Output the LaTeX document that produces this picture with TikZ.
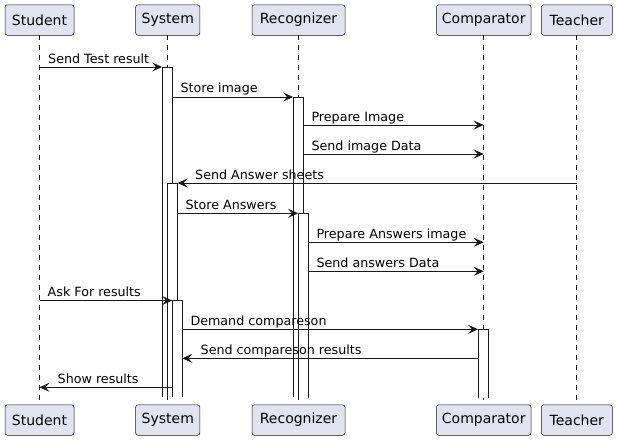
\documentclass[tikz,border=0pt]{standalone}
\usepackage{fontspec}
\setmainfont{DejaVu Sans}
\usetikzlibrary{arrows.meta}
\definecolor{pbg}{HTML}{E2E2F0}
\definecolor{ln}{HTML}{181818}
\begin{document}
\begin{tikzpicture}[x=1pt,y=-1pt,
 part/.style={draw=ln, fill=pbg, rounded corners=2.5pt, line width=0.5pt, minimum height=30.5pt, inner xsep=0pt, font=\fontsize{14}{16}\selectfont, text=black},
 life/.style={draw=ln, line width=0.5pt, dash pattern=on 5pt off 5pt},
 actbar/.style={fill=white, minimum width=10pt, inner sep=0pt, anchor=north},
 baredge/.style={draw=ln, line width=1pt},
 msg/.style={draw=ln, line width=1pt, -{Stealth[length=10pt,width=9pt,inset=4pt]}},
 lbl/.style={anchor=base west, font=\fontsize{12.7}{15}\selectfont, inner sep=0pt, text=black}]
\useasboundingbox (0,0) rectangle (617,440);
% participants
\node[part, minimum width=69pt] (stuT) at (39.5,20) {Student};
\node[part, minimum width=64.3pt] (sysT) at (167.8,20) {System};
\node[part, minimum width=93pt] (recT) at (298.5,20) {Recognizer};
\node[part, minimum width=94.7pt] (cmpT) at (483.7,20) {Comparator};
\node[part, minimum width=71pt] (teaT) at (576.8,20) {Teacher};
\node[part, minimum width=69pt] (stuB) at (39.5,420) {Student};
\node[part, minimum width=64.3pt] (sysB) at (167.8,420) {System};
\node[part, minimum width=93pt] (recB) at (298.5,420) {Recognizer};
\node[part, minimum width=94.7pt] (cmpB) at (483.7,420) {Comparator};
\node[part, minimum width=71pt] (teaB) at (576.8,420) {Teacher};
% lifelines
\coordinate (stuL) at (39.5,35.3);
\coordinate (sysL) at (167.3,35.3);
\coordinate (recL) at (298.3,35.3);
\coordinate (cmpL) at (483.7,35.3);
\coordinate (teaL) at (576.7,35.3);
\draw[life] (stuL) -- (stuL |- stuB.north);
\draw[life] (sysL) -- (sysL |- sysB.north);
\draw[life] (recL) -- (recL |- recB.north);
\draw[life] (cmpL) -- (cmpL |- cmpB.north);
\draw[life] (teaL) -- (teaL |- teaB.north);
% activation bars (open at the bottom)
\node[actbar, minimum height=330pt] (sys1) at (167.3,67) {};
\draw[baredge] (sys1.south west) -- (sys1.north west) -- (sys1.north east) -- (sys1.south east);
\node[actbar, minimum height=300pt] (rec1) at (298.3,97) {};
\draw[baredge] (rec1.south west) -- (rec1.north west) -- (rec1.north east) -- (rec1.south east);
\node[actbar, minimum height=214pt] (sys2) at (172.3,183) {};
\draw[baredge] (sys2.south west) -- (sys2.north west) -- (sys2.north east) -- (sys2.south east);
\node[actbar, minimum height=184pt] (rec2) at (303.3,213.3) {};
\draw[baredge] (rec2.south west) -- (rec2.north west) -- (rec2.north east) -- (rec2.south east);
\node[actbar, minimum height=96.5pt] (sys3) at (177.3,300.5) {};
\draw[baredge] (sys3.south west) -- (sys3.north west) -- (sys3.north east) -- (sys3.south east);
\node[actbar, minimum height=68pt] (cmp1) at (483.3,329.3) {};
\draw[baredge] (cmp1.south west) -- (cmp1.north west) -- (cmp1.north east) -- (cmp1.south east);
% message end points
\coordinate (m1a) at (39.5,67);
\coordinate (m2a) at (172.3,97);
\coordinate (m3a) at (303.3,125);
\coordinate (m3b) at (483.7,125);
\coordinate (m4a) at (303.3,154);
\coordinate (m4b) at (483.7,154);
\coordinate (m5a) at (576.7,183);
\coordinate (m6a) at (177.3,213.3);
\coordinate (m7a) at (308.3,242.3);
\coordinate (m7b) at (483.7,242.3);
\coordinate (m8a) at (308.3,271.3);
\coordinate (m8b) at (483.7,271.3);
\coordinate (m9a) at (39.5,300.5);
\coordinate (m10a) at (182.3,329.3);
\coordinate (m11a) at (478.3,358.3);
\coordinate (m11b) at (182.3,358.3);
\coordinate (m12a) at (172.3,387.3);
\coordinate (m12b) at (39.5,387.3);
% messages
\draw[msg] (m1a) -- (sys1.north west);
\node[lbl] (t1) at (48,63) {Send Test result};
\draw[msg] (m2a) -- (rec1.north west);
\node[lbl] (t2) at (180.3,92.7) {Store image};
\draw[msg] (m3a) -- (m3b);
\node[lbl] (t3) at (311.3,121) {Prepare Image};
\draw[msg] (m4a) -- (m4b);
\node[lbl] (t4) at (311.3,150) {Send image Data};
\draw[msg] (m5a) -- (sys2.north east);
\node[lbl] (t5) at (195,179) {Send Answer sheets};
\draw[msg] (m6a) -- (rec2.north west);
\node[lbl] (t6) at (185.3,209.3) {Store Answers};
\draw[msg] (m7a) -- (m7b);
\node[lbl] (t7) at (316.3,238.3) {Prepare Answers image};
\draw[msg] (m8a) -- (m8b);
\node[lbl] (t8) at (316.3,267.3) {Send answers Data};
\draw[msg] (m9a) -- (sys3.north west);
\node[lbl] (t9) at (47.5,296.5) {Ask For results};
\draw[msg] (m10a) -- (cmp1.north west);
\node[lbl] (t10) at (190.3,325.3) {Demand compareson};
\draw[msg] (m11a) -- (m11b);
\node[lbl] (t11) at (200.5,354.3) {Send compareson results};
\draw[msg] (m12a) -- (m12b);
\node[lbl] (t12) at (57.5,383.3) {Show results};
\end{tikzpicture}
\end{document}
